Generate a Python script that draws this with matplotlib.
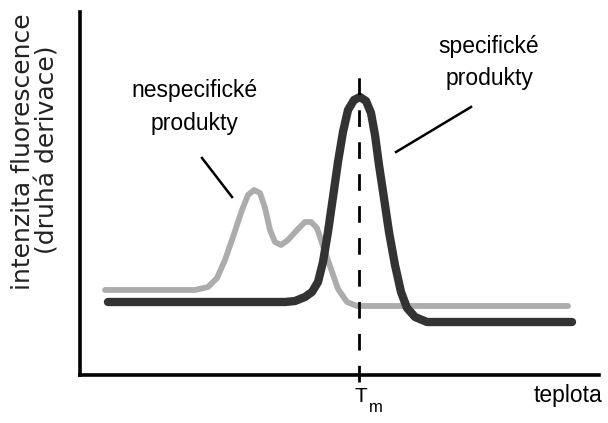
import matplotlib
matplotlib.use('Agg')
import matplotlib.pyplot as plt

# specifické produkty (tmavá křivka)
spec_x = [5.39, 39.50, 41.43, 43.35, 44.70, 45.86, 46.82, 47.78, 48.75, 49.71, 50.67, 51.64,
          52.79, 53.95, 55.11, 56.07, 56.84, 57.61, 58.57, 59.54, 60.69, 61.85, 63.01, 64.55,
          66.86, 94.80]
spec_y = [20.11, 20.11, 20.39, 21.49, 22.87, 25.62, 31.13, 39.39, 49.04, 58.68, 66.94, 73.00,
          75.76, 76.58, 75.48, 72.18, 66.12, 57.85, 48.76, 39.39, 30.30, 22.87, 18.46, 15.98,
          14.60, 14.60]

# nespecifické produkty (světlá křivka)
nonspec_x = [4.82, 22.16, 24.66, 26.40, 27.94, 29.48, 31.21, 32.37, 33.53, 34.68, 35.65, 36.61,
             37.57, 38.73, 40.08, 41.81, 43.35, 44.51, 45.66, 46.82, 48.17, 49.71, 51.45, 53.37,
             94.03]
nonspec_y = [23.42, 23.42, 24.24, 26.72, 31.68, 38.02, 45.45, 49.59, 50.96, 50.14, 46.01, 39.94,
             36.64, 35.81, 37.19, 39.94, 42.15, 42.15, 40.50, 35.54, 30.03, 23.69, 20.11, 19.01,
             19.01]

tm = 53.76

font = ['Liberation Sans', 'DejaVu Sans']

fig = plt.figure(figsize=(6.08, 4.23), dpi=100)
ax = fig.add_axes([80/608, 48/423, 519/608, 363/423])
ax.set_xlim(0, 100)
ax.set_ylim(0, 100)

ax.plot(nonspec_x, nonspec_y, color='#acacac', lw=4.2, solid_capstyle='round', solid_joinstyle='round', zorder=3)
ax.plot(spec_x, spec_y, color='#333333', lw=6, solid_capstyle='round', solid_joinstyle='round', zorder=4)
ax.plot([tm, tm], [-1.9, 83.5], color='black', lw=2, dashes=(6, 5.5), clip_on=False, zorder=5)

# popisky
ax.plot([23.51, 29.29], [59.78, 49.04], color='black', lw=1.8, zorder=5)
ax.plot([75.34, 60.89], [73.83, 61.43], color='black', lw=1.8, zorder=5)
ax.text(21.97, 76.58, 'nespecifické', family=font, fontsize=16.5, ha='center', va='baseline')
ax.text(21.97, 67.49, 'produkty', family=font, fontsize=16.5, ha='center', va='baseline')
ax.text(78.81, 88.71, 'specifické', family=font, fontsize=16.5, ha='center', va='baseline')
ax.text(78.81, 79.89, 'produkty', family=font, fontsize=16.5, ha='center', va='baseline')

ax.text(54.14, -7.44, 'T', family=font, fontsize=15, ha='center', va='baseline', clip_on=False)
ax.text(57.0, -10.2, 'm', family=font, fontsize=12, ha='center', va='baseline', clip_on=False)
ax.text(100.6, -7.44, 'teplota', family=font, fontsize=16.5, ha='right', va='baseline', clip_on=False)

fig.text(23.5/608, 1 - 152/423, 'intenzita fluorescence', rotation=90, fontsize=18,
         ha='center', va='center', color='#222222')
fig.text(48/608, 1 - 150/423, '(druhá derivace)', rotation=90, fontsize=18,
         ha='center', va='center', color='#222222')

for s in ['top', 'right']:
    ax.spines[s].set_visible(False)
for s in ['left', 'bottom']:
    ax.spines[s].set_linewidth(2.6)
ax.set_xticks([])
ax.set_yticks([])

fig.savefig('out.png', dpi=100)
